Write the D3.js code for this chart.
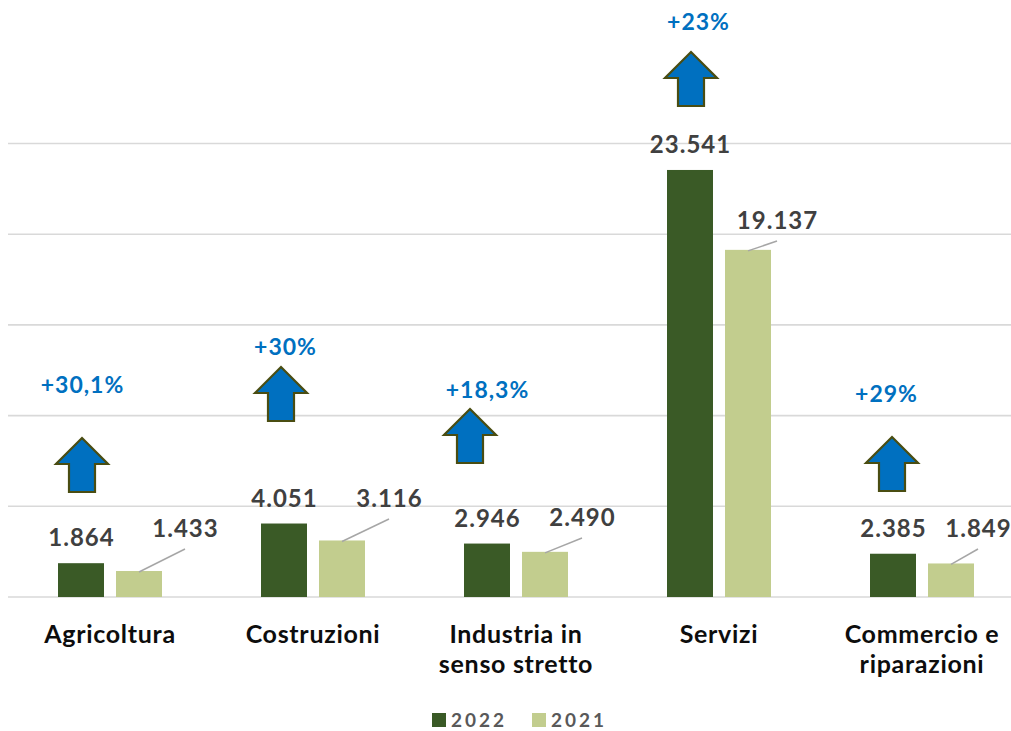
<!DOCTYPE html>
<html>
<head>
<meta charset="utf-8">
<script src="https://cdn.jsdelivr.net/npm/d3@7"></script>
<style>
  html, body { margin: 0; padding: 0; background: #ffffff; }
  svg { display: block; font-family: Lato, "Open Sans", sans-serif; }
</style>
</head>
<body>
<svg id="chart" width="1011" height="731"></svg>
<script>
// Occupati per settore: 2022 vs 2021
const categories = ["Agricoltura", "Costruzioni", "Industria in senso stretto", "Servizi", "Commercio e riparazioni"];
const categoryLines = [["Agricoltura"], ["Costruzioni"], ["Industria in", "senso stretto"], ["Servizi"], ["Commercio e", "riparazioni"]];
const series = ["2022", "2021"];
const values2022 = [1864, 4051, 2946, 23541, 2385];
const values2021 = [1433, 3116, 2490, 19137, 1849];
const changeLabels = ["+30,1%", "+30%", "+18,3%", "+23%", "+29%"];
const yTicks = [0, 5000, 10000, 15000, 20000, 25000];

// Placement of the hand-positioned annotations (pixels, relative to the band centre / baseline)
const arrowLayout = [
  { dx: -28, bottom: 492, labelDx: -28, labelY: 393 },
  { dx: -32, bottom: 421, labelDx: -28, labelY: 355 },
  { dx: -46, bottom: 463, labelDx: -29, labelY: 398 },
  { dx: -28, bottom: 106, labelDx: -21, labelY: 30 },
  { dx: -30, bottom: 491, labelDx: -36, labelY: 402 }
];
const label2021Layout = [
  { dx: 46, baseline: 537 },
  { dx: 47, baseline: 507 },
  { dx: 37, baseline: 526 },
  { dx: 29, baseline: 229 },
  { dx: 27, baseline: 537 }
];

const colors = { "2022": "#3a5a26", "2021": "#c2cd8e" };
const fmt = v => d3.format(",")(v).replace(/,/g, ".");

const svg = d3.select("#chart");
const W = 1011;

const x = d3.scaleBand().domain(categories).range([8.5, 1023.5]).paddingInner(0).paddingOuter(0);
const bw = x.bandwidth();
const xs = d3.scaleBand().domain(series).range([bw / 2 - 52, bw / 2 + 52]).paddingInner(12 / 58).paddingOuter(0);
const y = d3.scaleLinear().domain([0, 25000]).range([597, 143.5]);

// gridlines
svg.append("g")
  .selectAll("line")
  .data(yTicks)
  .join("line")
  .attr("x1", 8).attr("x2", W)
  .attr("y1", d => y(d)).attr("y2", d => y(d))
  .attr("stroke", "#d9d9d9")
  .attr("stroke-width", 1.6);

const rows = categories.map((c, i) => ({ cat: c, i, v: { "2022": values2022[i], "2021": values2021[i] } }));

// bars
const groups = svg.append("g").selectAll("g")
  .data(rows).join("g")
  .attr("transform", d => `translate(${x(d.cat)},0)`);

groups.selectAll("rect")
  .data(d => series.map(s => ({ s, v: d.v[s] })))
  .join("rect")
  .attr("x", d => xs(d.s))
  .attr("width", xs.bandwidth())
  .attr("y", d => y(d.v))
  .attr("height", d => y(0) - y(d.v))
  .attr("fill", d => colors[d.s]);

const valueText = sel => sel
  .attr("text-anchor", "middle")
  .attr("font-size", 24).attr("font-weight", 700)
  .attr("letter-spacing", 1)
  .attr("fill", "#404040");

// 2022 value labels, centred above bars
groups.append("text")
  .attr("x", xs("2022") + xs.bandwidth() / 2 + 0.5)
  .attr("y", d => y(d.v["2022"]) - 17)
  .call(valueText)
  .text(d => fmt(d.v["2022"]));

// 2021 value labels with leader lines
const c21 = xs("2021") + xs.bandwidth() / 2;
groups.append("line")
  .attr("x1", c21)
  .attr("y1", d => y(d.v["2021"]) + 1)
  .attr("x2", d => c21 + label2021Layout[d.i].dx)
  .attr("y2", d => label2021Layout[d.i].baseline + 12)
  .attr("stroke", "#a6a6a6").attr("stroke-width", 1.5);

groups.append("text")
  .attr("x", d => c21 + label2021Layout[d.i].dx + 0.5)
  .attr("y", d => label2021Layout[d.i].baseline)
  .call(valueText)
  .text(d => fmt(d.v["2021"]));

// category labels
groups.append("text")
  .attr("text-anchor", "middle")
  .attr("font-size", 25).attr("font-weight", 700)
  .attr("letter-spacing", 0.7)
  .attr("fill", "#0d0d0d")
  .selectAll("tspan")
  .data(d => categoryLines[d.i])
  .join("tspan")
  .attr("x", bw / 2)
  .attr("y", (d, j) => 643 + j * 30)
  .text(d => d);

// growth arrows
const arrowPath = (cx, bottom) => {
  const w = 52, h = 54, head = 26, shaft = 26;
  const top = bottom - h;
  return `M${cx},${top} L${cx + w / 2},${top + head} L${cx + shaft / 2},${top + head} L${cx + shaft / 2},${bottom} ` +
         `L${cx - shaft / 2},${bottom} L${cx - shaft / 2},${top + head} L${cx - w / 2},${top + head} Z`;
};
groups.append("path")
  .attr("d", d => arrowPath(bw / 2 + arrowLayout[d.i].dx, arrowLayout[d.i].bottom))
  .attr("fill", "#0070c0")
  .attr("stroke", "#4a4d12")
  .attr("stroke-width", 2.2)
  .attr("stroke-linejoin", "miter");

groups.append("text")
  .attr("x", d => bw / 2 + arrowLayout[d.i].labelDx + 0.5)
  .attr("y", d => arrowLayout[d.i].labelY)
  .attr("text-anchor", "middle")
  .attr("font-size", 23).attr("font-weight", 700)
  .attr("letter-spacing", 1)
  .attr("fill", "#0070c0")
  .text(d => changeLabels[d.i]);

// legend
const legend = svg.append("g").attr("transform", "translate(432,713)");
const legendX = [0, 100];
series.forEach((s, k) => {
  const g = legend.append("g").attr("transform", `translate(${legendX[k]},0)`);
  g.append("rect").attr("width", 14).attr("height", 14).attr("fill", colors[s]);
  g.append("text").attr("x", 19).attr("y", 14)
    .attr("font-size", 19).attr("font-weight", 700)
    .attr("fill", "#595959").attr("letter-spacing", 3)
    .text(s);
});
</script>
</body>
</html>
